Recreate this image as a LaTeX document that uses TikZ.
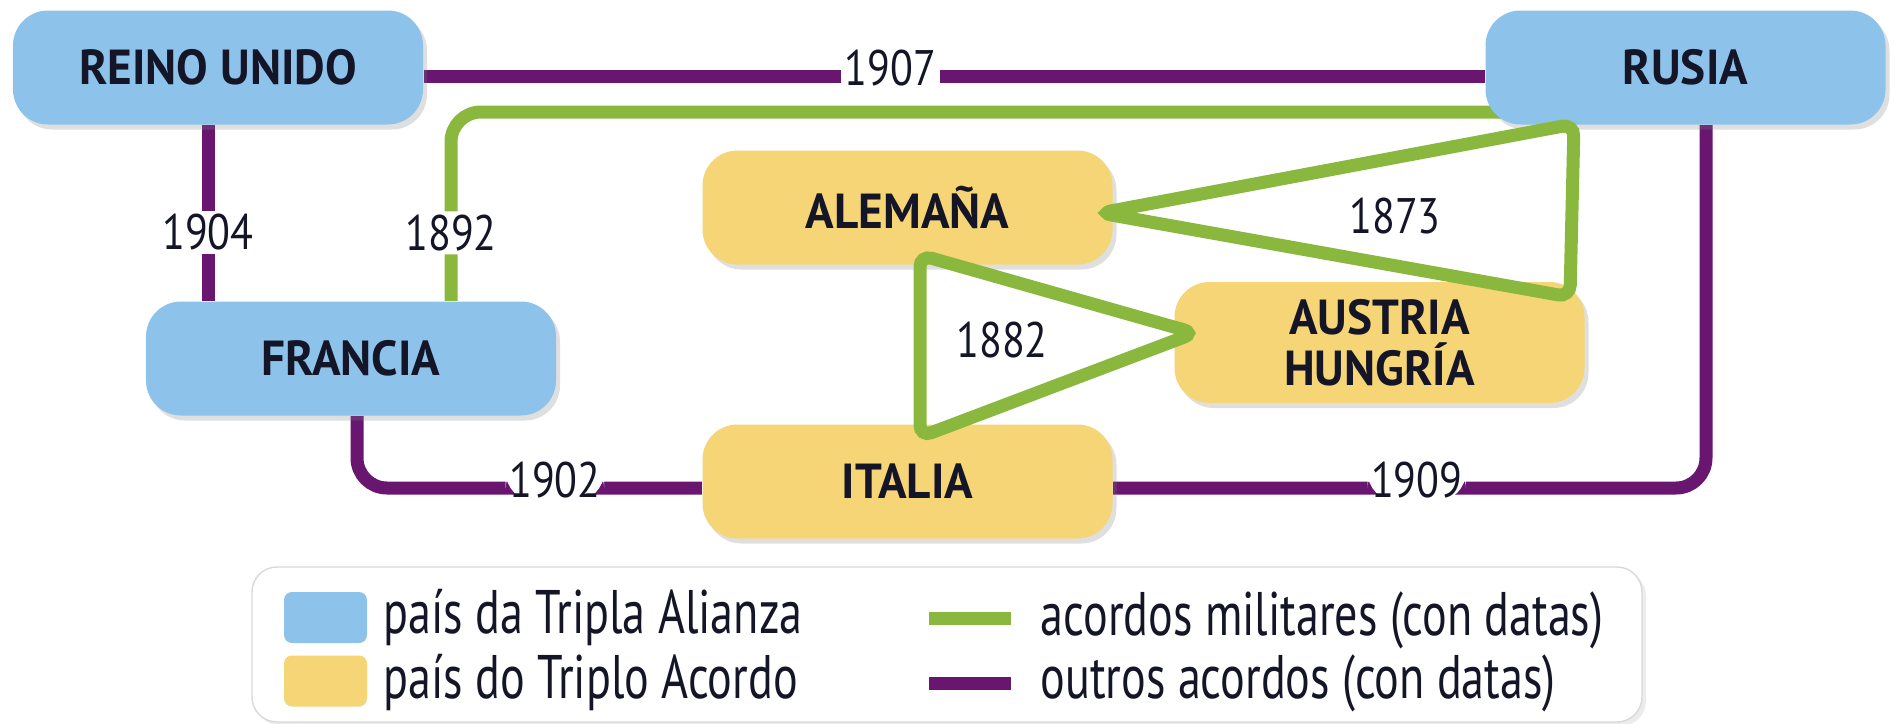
\documentclass[tikz,border=0pt]{standalone}
\usepackage{fontspec}
\setmainfont{PT Sans}
\newfontfamily\boxfont{PT Sans}[FakeStretch=0.96]
\newfontfamily\datefont{PT Sans}[FakeStretch=0.84]
\newfontfamily\keyfont{PT Sans}[FakeStretch=0.75]
\usetikzlibrary{shadows,backgrounds}

\definecolor{alliedblue}{RGB}{141,195,234}
\definecolor{centralyellow}{RGB}{245,213,117}
\definecolor{pactpurple}{RGB}{104,22,112}
\definecolor{pactgreen}{RGB}{138,184,62}
\definecolor{labelink}{RGB}{20,22,40}

\tikzset{
  country/.style={rounded corners=0.35cm, minimum width=4.1cm, minimum height=1.14cm,
    align=center, text=labelink, font=\boxfont\bfseries\fontsize{14}{14.4}\selectfont,
    drop shadow={shadow xshift=0.04cm, shadow yshift=-0.05cm, opacity=0.25}},
  allied/.style={country, fill=alliedblue},
  central/.style={country, fill=centralyellow},
  other/.style={draw=pactpurple, line width=0.13cm},
  military/.style={draw=pactgreen, line width=0.13cm},
  datelbl/.style={fill=white, inner sep=1pt, text=labelink,
    font=\datefont\fontsize{14.2}{15}\selectfont},
  keytext/.style={anchor=base west, inner sep=0pt, text=labelink,
    font=\keyfont\fontsize{17.5}{18}\selectfont}
}

\begin{document}
\begin{tikzpicture}[yscale=-1]
    \useasboundingbox (0, 0) rectangle (18.95, 7.24);
    % countries
    \node (reino) [allied] at (2.18, 0.675) {REINO UNIDO};
    \node (rusia) [allied, minimum width=4.0cm] at (16.855, 0.675) {RUSIA};
    \node (francia) [allied] at (3.51, 3.585) {FRANCIA};
    \node (alemania) [central] at (9.075, 2.075) {ALEMAÑA};
    \node (austria) [central, minimum height=1.21cm] at (13.795, 3.425) {AUSTRIA\\HUNGRÍA};
    \node (italia) [central] at (9.075, 4.815) {ITALIA};

    \begin{scope}[on background layer]
    % 1907
    \draw [other] (reino.east |- 0,0.76) -- node [datelbl, pos=0.44, yshift=0.08cm] {1907} (rusia.west |- 0,0.76);
    % 1904
    \draw [other] (reino.south -| 2.08,0) -- node [datelbl, pos=0.61] {1904} (francia.north -| 2.08,0);
    % 1902
    \draw [other, rounded corners=0.3cm] (francia.south -| 3.57,0) |- node [datelbl, pos=0.787, yshift=0.08cm] {1902} (italia.west |- 0,4.88);
    % 1909
    \draw [other, rounded corners=0.3cm] (italia.east |- 0,4.88) -| node [datelbl, pos=0.256, yshift=0.08cm] {1909} (rusia.south -| 17.06,0);
    % 1892
    \draw [military, rounded corners=0.3cm] ([xshift=0.3cm]rusia.west |- 0,1.12) -| node [datelbl, pos=0.82] {1892} (francia.north -| 4.51,0);
    \end{scope}

    % 1873 triangle
    \coordinate (tipger) at (11.0, 2.13);
    \draw [military, rounded corners=0.12cm] (tipger) -- (15.74, 1.24) -- (15.70, 2.97) -- cycle;
    \node (d1873) [datelbl, fill=none] at (13.95, 2.16) {1873};
    % 1882 triangle
    \coordinate (tipaus) at (11.95, 3.33);
    \draw [military, rounded corners=0.12cm] (tipaus) -- (9.20, 2.55) -- (9.20, 4.37) -- cycle;
    \node (d1882) [datelbl, fill=none] at (10.02, 3.40) {1882};

    % legend
    \draw [draw=black!15, fill=white, rounded corners=0.25cm,
      drop shadow={shadow xshift=0.04cm, shadow yshift=-0.04cm, opacity=0.15}] (2.52, 5.67) rectangle (16.42, 7.22);
    \node (keyblue) [fill=alliedblue, rounded corners=0.08cm, minimum width=0.83cm, minimum height=0.51cm, inner sep=0pt] at (3.255, 6.175) {};
    \node (keyyellow) [fill=centralyellow, rounded corners=0.08cm, minimum width=0.83cm, minimum height=0.51cm, inner sep=0pt] at (3.255, 6.81) {};
    \node (txtblue) [keytext] at (3.83, 6.33) {país da Tripla Alianza};
    \node (txtyellow) [keytext] at (3.83, 6.98) {país do Triplo Acordo};
    \draw [military] (9.29, 6.18) -- (10.11, 6.18);
    \draw [other] (9.29, 6.83) -- (10.11, 6.83);
    \node (txtgreen) [keytext] at (10.40, 6.35) {acordos militares (con datas)};
    \node (txtpurple) [keytext] at (10.40, 6.98) {outros acordos (con datas)};
\end{tikzpicture}
\end{document}
